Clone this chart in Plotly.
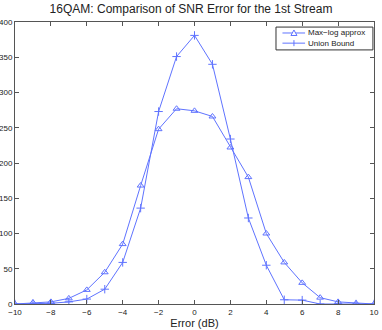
import plotly.graph_objects as go

error_db = [-10, -9, -8, -7, -6, -5, -4, -3, -2, -1, 0, 1, 2, 3, 4, 5, 6, 7, 8, 9, 10]
maxlog = [0, 2, 3, 8, 20, 45, 85, 168, 248, 277, 274, 266, 222, 180, 100, 59, 30, 9, 3, 1, 0]
union = [0, 0.5, 1, 3, 7, 21, 59, 136, 273, 351, 381, 340, 234, 122, 55, 6, 5.5, 0, 0, 0, 0]
names = ['Max\u2212log approx', 'Union Bound']

blue = 'rgb(95,115,255)'
txt = '#222'

fig = go.Figure([
    go.Scatter(
        name=names[0],
        x=error_db, y=maxlog,
        mode='lines+markers',
        line=dict(color=blue, width=1),
        marker=dict(symbol='triangle-up-open', size=6, color=blue, line=dict(width=1, color=blue)),
        showlegend=False,
    ),
    go.Scatter(
        name=names[1],
        x=error_db, y=union,
        mode='lines+markers',
        line=dict(color=blue, width=1),
        marker=dict(symbol='cross-thin-open', size=6, color=blue, line=dict(width=1, color=blue)),
        showlegend=False,
    ),
])

axis_style = dict(
    showline=True, mirror='ticks', linecolor='#555', linewidth=1,
    ticks='inside', ticklen=4, tickcolor='#555',
    showgrid=False, zeroline=False, automargin=False,
    tickfont=dict(size=8, color=txt, family='Liberation Sans, Arial'),
)

fig.update_xaxes(range=[-10, 10], tickvals=list(range(-10, 11, 2)),
                 ticktext=[str(v).replace('-', '\u2212') for v in range(-10, 11, 2)],
                 title=dict(text='Error (dB)', font=dict(size=11, color=txt), standoff=0),
                 **axis_style)
fig.update_yaxes(range=[0, 400], tickvals=list(range(0, 401, 50)), **axis_style)

# MATLAB-style compact legend box (drawn with shapes, paper coords)
px = 1 / 359  # one pixel of plot width in paper units
py = 1 / 282  # one pixel of plot height in paper units
fig.add_shape(type='rect', xref='paper', yref='paper', x0=0.727, x1=0.997, y0=0.901, y1=0.982,
              line=dict(color='#333', width=1), fillcolor='white', layer='above')
mx = 0.777
for i, (row_y, nm) in enumerate(zip([0.961, 0.925], names)):
    fig.add_shape(type='line', xref='paper', yref='paper', x0=0.745, x1=0.808, y0=row_y, y1=row_y,
                  line=dict(color=blue, width=1), layer='above')
    if i == 0:
        tri = 'M {},{} L {},{} L {},{} Z'.format(mx - 3 * px, row_y - 2.5 * py, mx + 3 * px, row_y - 2.5 * py,
                                                 mx, row_y + 3 * py)
        fig.add_shape(type='path', xref='paper', yref='paper', path=tri,
                      line=dict(color=blue, width=1), fillcolor='white', layer='above')
    else:
        fig.add_shape(type='line', xref='paper', yref='paper', x0=mx, x1=mx,
                      y0=row_y - 3 * py, y1=row_y + 3 * py, line=dict(color=blue, width=1), layer='above')
    fig.add_annotation(xref='paper', yref='paper', x=0.814, y=row_y, text=nm, showarrow=False,
                       font=dict(size=8, color=txt), xanchor='left', yanchor='middle', borderpad=0)

fig.update_layout(
    width=382, height=330,
    margin=dict(l=15, r=8, t=22, b=26),
    paper_bgcolor='white', plot_bgcolor='white',
    font=dict(family='Liberation Sans, Arial', color=txt),
    title=dict(text='16QAM: Comparison of SNR Error for the 1st Stream',
               x=0.5, xanchor='center', y=0.985, yanchor='top',
               font=dict(size=12, color=txt)),
)

# page has a default 8px body margin; drop it so the figure fills the window
fig.write_html("out.html", config={'displayModeBar': False},
               post_script="document.body.style.margin='0';")
